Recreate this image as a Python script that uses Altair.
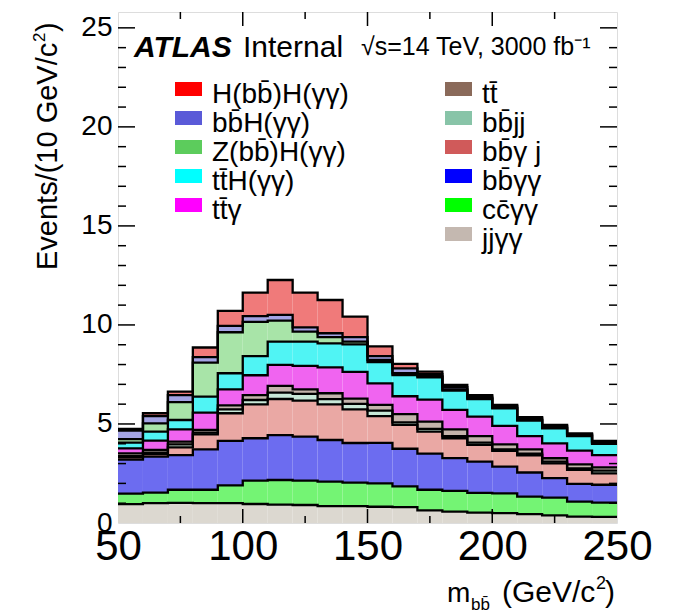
import altair as alt
import pandas as pd

# ---------------- data ----------------
bin_lo = [50, 60, 70, 80, 90, 100, 110, 120, 130, 140,
          150, 160, 170, 180, 190, 200, 210, 220, 230, 240]
BIN_W = 10

# stacked from bottom to top
names = ["jjγγ", "cc̄γγ", "bb̄γγ", "bb̄γ j", "bb̄jj", "tt̄", "tt̄γ",
         "tt̄H(γγ)", "Z(bb̄)H(γγ)", "bb̄H(γγ)", "H(bb̄)H(γγ)"]

jjgg = [0.95, 1.00, 1.02, 1.00, 1.00, 0.96, 0.93, 0.91, 0.85, 0.85, 0.82, 0.80, 0.64, 0.57, 0.52, 0.50, 0.45, 0.38, 0.32, 0.31]
ccgg = [0.53, 0.53, 0.66, 0.68, 0.90, 1.18, 1.24, 1.23, 1.24, 1.19, 1.18, 1.05, 1.04, 1.05, 1.00, 1.00, 0.88, 0.90, 0.76, 0.72]
bbgg = [1.72, 1.82, 1.75, 2.04, 2.25, 2.14, 2.27, 2.22, 2.10, 2.00, 2.05, 1.90, 1.82, 1.66, 1.58, 1.35, 1.22, 0.99, 0.90, 0.90]
bbgj = [0.12, 0.13, 0.39, 0.75, 1.39, 1.71, 1.82, 1.82, 1.80, 1.70, 1.35, 1.20, 1.11, 1.00, 0.84, 0.79, 0.87, 0.74, 0.70, 0.58]
bbjj = [0.06, 0.07, 0.15, 0.09, 0.20, 0.22, 0.32, 0.34, 0.26, 0.27, 0.27, 0.13, 0.14, 0.11, 0.12, 0.08, 0.08, 0.09, 0.08, 0.13]
ttbar = [0.14, 0.14, 0.14, 0.14, 0.20, 0.25, 0.34, 0.23, 0.30, 0.27, 0.29, 0.42, 0.37, 0.34, 0.33, 0.25, 0.22, 0.17, 0.20, 0.17]
ttg = [0.25, 0.47, 0.62, 0.87, 0.81, 1.00, 1.06, 1.18, 1.31, 1.35, 1.09, 0.90, 1.11, 0.98, 0.98, 0.93, 0.67, 0.75, 0.69, 0.62]
ttH = [0.29, 0.45, 0.47, 0.81, 0.81, 0.97, 1.18, 1.23, 1.21, 1.39, 1.07, 1.07, 1.13, 0.97, 0.88, 0.89, 0.78, 0.76, 0.74, 0.56]
ZH = [0.17, 0.42, 0.90, 1.72, 2.07, 1.72, 1.06, 0.50, 0.31, 0.14, 0.11, 0.09, 0.06, 0.06, 0.05, 0.04, 0.04, 0.04, 0.04, 0.04]
bbH = [0.43, 0.37, 0.36, 0.27, 0.32, 0.30, 0.29, 0.22, 0.20, 0.22, 0.20, 0.25, 0.10, 0.12, 0.08, 0.07, 0.07, 0.07, 0.05, 0.06]
HH = [0.09, 0.14, 0.17, 0.49, 0.76, 1.18, 1.76, 1.75, 1.68, 1.04, 0.49, 0.22, 0.12, 0.11, 0.08, 0.06, 0.06, 0.06, 0.05, 0.05]

series_values = [jjgg, ccgg, bbgg, bbgj, bbjj, ttbar, ttg, ttH, ZH, bbH, HH]

# stack fill colours (dotted ROOT fills look lighter) and legend swatch colours
fill_colors = ["#dcd8d0", "#74f474", "#6c6cf0", "#eaa8a4", "#c8e8d8", "#c4b4ac",
               "#f064f0", "#50f4f4", "#a8e4a8", "#a4a4e4", "#f07a7a"]
legend_colors = ["#c4b8b0", "#00ff00", "#0000ff", "#d05a5a", "#88c4a8", "#8a6a5a",
                 "#ff00ff", "#00ffff", "#5ccc5c", "#5a5ad8", "#ff0000"]

x_labels = [50, 100, 150, 200, 250]
y_labels = [0, 5, 10, 15, 20, 25]
y_major = [5, 10, 15, 20, 25]
y_minor = [v for v in range(1, 26) if v % 5 != 0]
x_major = [100, 150, 200]
x_minor = [75, 125, 175, 225]

# ---------------- tables ----------------
rows = []
for k, (nm, vals) in enumerate(zip(names, series_values)):
    for lo, v in zip(bin_lo, vals):
        rows.append({"lo": lo, "hi": lo + BIN_W, "series": nm, "order": k, "value": v})
df = pd.DataFrame(rows)

# step outlines: cumulative top of each layer
line_rows = []
cum = [0.0] * len(bin_lo)
for k, (nm, vals) in enumerate(zip(names, series_values)):
    cum = [c + v for c, v in zip(cum, vals)]
    for lo, c in zip(bin_lo, cum):
        line_rows.append({"x": lo, "top": c, "series": nm})
    line_rows.append({"x": bin_lo[-1] + BIN_W, "top": cum[-1], "series": nm})
df_line = pd.DataFrame(line_rows)

W, H = 499, 511
FONT = "Liberation Sans"
xs = alt.Scale(domain=[50, 250], nice=False, zero=False)
ys = alt.Scale(domain=[0, 25.8], nice=False, zero=True)

x_axis = alt.Axis(values=x_labels, labelFontSize=42, ticks=False, domain=False, grid=False,
                  labelPadding=3, title=None, labelFlush=False, labelOverlap=False,
                  labelColor="black", labelFont=FONT, format="d")
y_axis = alt.Axis(values=y_labels, labelFontSize=28, ticks=False, domain=False, grid=False,
                  labelPadding=6, labelColor="black", labelFont=FONT, format="d",
                  labelOverlap=False, labelFlush=False, title=None)

bars = alt.Chart(df).transform_stack(
    stack="value", groupby=["lo"], as_=["y0", "y1"],
    sort=[alt.SortField("order", order="ascending")]
).mark_rect(strokeWidth=0).encode(
    x=alt.X("lo:Q", scale=xs, axis=x_axis),
    x2="hi:Q",
    y=alt.Y("y0:Q", scale=ys, axis=y_axis),
    y2="y1:Q",
    color=alt.Color("series:N", scale=alt.Scale(domain=names, range=fill_colors), legend=None),
)

outlines = alt.Chart(df_line).mark_line(interpolate="step-after", color="black",
                                         strokeWidth=2.3).encode(
    x=alt.X("x:Q", scale=xs, axis=x_axis),
    y=alt.Y("top:Q", scale=ys, axis=y_axis),
    detail="series:N",
)


def hticks(vals, x0, x1):
    return alt.Chart(pd.DataFrame({"v": vals})).mark_rule(color="black", strokeWidth=1.5).encode(
        y=alt.Y("v:Q", scale=ys, axis=y_axis), x=alt.value(x0), x2=alt.value(x1))


def vticks(vals, y0, y1):
    return alt.Chart(pd.DataFrame({"v": vals})).mark_rule(color="black", strokeWidth=1.5).encode(
        x=alt.X("v:Q", scale=xs, axis=x_axis), y=alt.value(y0), y2=alt.value(y1))


ticks = [
    hticks(y_major, 0, 17), hticks(y_minor, 0, 8),
    hticks(y_major, W - 17, W), hticks(y_minor, W - 8, W),
    vticks(x_major, H - 14, H), vticks(x_minor, H - 7, H),
    vticks(x_major, 0, 14), vticks(x_minor, 0, 7),
]

one = pd.DataFrame({"a": [0]})
OX, OY = 118, 12  # plot origin in the page


def text(t, x, y, size, **kw):
    return alt.Chart(one).mark_text(text=t, font=FONT, fontSize=size, align="left",
                                    baseline="alphabetic", color="black", **kw).encode(
        x=alt.value(x - OX), y=alt.value(y - OY))


labels = [
    text("ATLAS", 134, 57, 30, fontWeight="bold", fontStyle="italic"),
    text("Internal", 243, 57, 30),
    text("√s=14 TeV, 3000 fb⁻¹", 361, 55, 25),
    # x-axis title  m_{bb̄} (GeV/c^2)
    text("m", 447, 602, 28),
    text("bb̄", 471, 610, 17),
    text("(GeV/c", 502, 602, 30),
    text("2", 596, 589, 18),
    text(")", 605, 602, 30),
    # y-axis title  Events/(10 GeV/c^2), reading upwards
    text("Events/(10 GeV/c", 57, 270, 29, angle=270),
    text("2", 45, 42, 17, angle=270),
    text(")", 57, 32, 29, angle=270),
]

# manual ROOT-style legend: two columns, listed top of stack first
legend_left = ["H(bb̄)H(γγ)", "bb̄H(γγ)", "Z(bb̄)H(γγ)", "tt̄H(γγ)", "tt̄γ"]
legend_right = ["tt̄", "bb̄jj", "bb̄γ j", "bb̄γγ", "cc̄γγ", "jjγγ"]
leg_layers = []
for col, (items, sx, tx) in enumerate([(legend_left, 175, 212), (legend_right, 445, 482)]):
    for i, nm in enumerate(items):
        c = legend_colors[names.index(nm)]
        top = 82 + 29 * i
        leg_layers.append(alt.Chart(one).mark_rect(color=c).encode(
            x=alt.value(sx - OX), x2=alt.value(sx + 27 - OX),
            y=alt.value(top - OY), y2=alt.value(top + 14 - OY)))
        leg_layers.append(text(nm, tx, 103 + 29 * i, 28))

chart = alt.layer(bars, outlines, *ticks, *labels, *leg_layers).properties(
    width=W, height=H, autosize="none",
    padding={"left": OX, "top": OY, "right": 674 - OX - W, "bottom": 615 - OY - H},
).configure_view(stroke="black", strokeWidth=1.5).configure(background="white")

chart.save("out.html", embed_options={"renderer": "svg", "actions": False})
